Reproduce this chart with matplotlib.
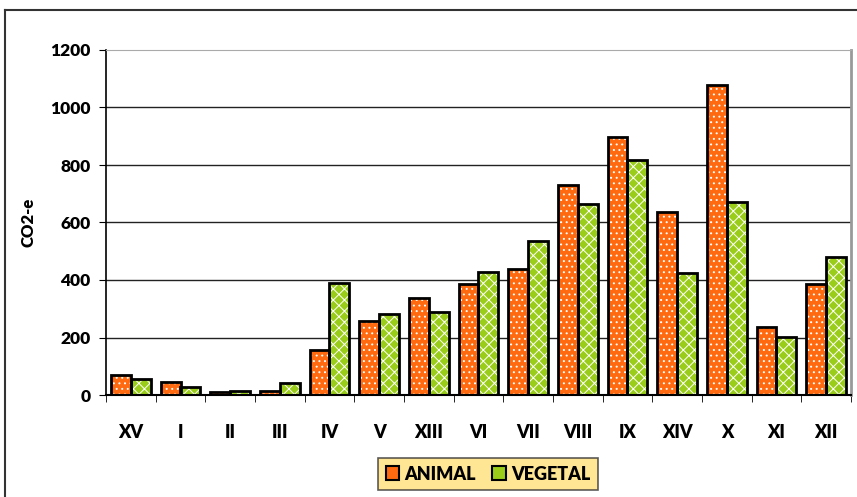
import matplotlib.pyplot as plt
from matplotlib.patches import Patch
from matplotlib.lines import Line2D
import numpy as np

# Data
categories = ['XV', 'I', 'II', 'III', 'IV', 'V', 'XIII', 'VI', 'VII', 'VIII',
              'IX', 'XIV', 'X', 'XI', 'XII']
animal = [71, 44, 10, 15, 157, 257, 338, 386, 438, 730, 896, 635, 1079, 235, 385]
vegetal = [57, 29, 15, 41, 391, 282, 288, 428, 536, 664, 818, 423, 672, 203, 481]
yticks = [0, 200, 400, 600, 800, 1000, 1200]

orange = '#FF6A10'
green = '#9ACD1A'

plt.rcParams['font.family'] = ['Lato', 'DejaVu Sans']
plt.rcParams['font.weight'] = 'heavy'
plt.rcParams['hatch.color'] = 'white'
plt.rcParams['hatch.linewidth'] = 0.7

fig = plt.figure(figsize=(8.57, 4.97), dpi=100)
ax = fig.add_axes([106 / 857, 1 - 395 / 497, 745 / 857, 345 / 497])

x = np.arange(len(categories))
w = 0.4

# filled, hatched bars (hatch in white) then black outlines on top
ax.bar(x - w / 2, animal, w, color=orange, hatch='...', linewidth=0, zorder=2)
ax.bar(x + w / 2, vegetal, w, color=green, hatch='xxx', linewidth=0, zorder=2)
ax.bar(x - w / 2, animal, w, fill=False, edgecolor='black', linewidth=2, zorder=3)
ax.bar(x + w / 2, vegetal, w, fill=False, edgecolor='black', linewidth=2, zorder=3)

ax.set_xlim(-0.5, len(categories) - 0.5)
ax.set_ylim(0, 1200)
ax.set_yticks(yticks)
ax.tick_params(axis='y', labelsize=12.5, length=5, direction='out', pad=6)
for t in ax.get_yticklabels():
    t.set_fontweight('heavy')

# category labels centered, tick marks at category boundaries
ax.set_xticks(x)
ax.set_xticklabels(categories, fontsize=13, fontweight='heavy')
ax.tick_params(axis='x', which='major', length=0, pad=21)
ax.set_xticks(np.arange(-0.5, len(categories)), minor=True)
ax.tick_params(axis='x', which='minor', length=5, direction='out')

for v in yticks[1:-1]:
    ax.axhline(v, color='#222222', linewidth=1, zorder=1)

ax.spines['top'].set_color('#aaaaaa')
ax.spines['right'].set_color('#999999')
ax.spines['right'].set_linewidth(2)
ax.spines['left'].set_linewidth(1.2)
ax.spines['bottom'].set_linewidth(1.5)

ax.set_ylabel('CO2-e', fontsize=12, fontweight='heavy', labelpad=10)

# legend
handles = [Patch(facecolor=orange, edgecolor='black', linewidth=1.5, label='ANIMAL'),
           Patch(facecolor=green, edgecolor='black', linewidth=1.5, label='VEGETAL')]
leg = fig.legend(handles=handles, loc='center', bbox_to_anchor=(488 / 857, 1 - 474 / 497),
                 ncol=2, fontsize=13, frameon=True, fancybox=False,
                 handlelength=0.75, handleheight=0.85, handletextpad=0.3,
                 columnspacing=0.9, borderpad=0.4)
leg.get_frame().set_facecolor('#FFE07A')
leg.get_frame().set_edgecolor('#333333')
leg.get_frame().set_linewidth(1.2)
for t in leg.get_texts():
    t.set_fontweight('heavy')

# partial outer chart border (top and left)
fig.add_artist(Line2D([5 / 857, 5 / 857], [0, 1 - 10 / 497], color='#333333',
                      linewidth=1.5, transform=fig.transFigure))
fig.add_artist(Line2D([5 / 857, 1], [1 - 10 / 497, 1 - 10 / 497], color='#333333',
                      linewidth=1.5, transform=fig.transFigure))

plt.savefig('out.png', dpi=100)
